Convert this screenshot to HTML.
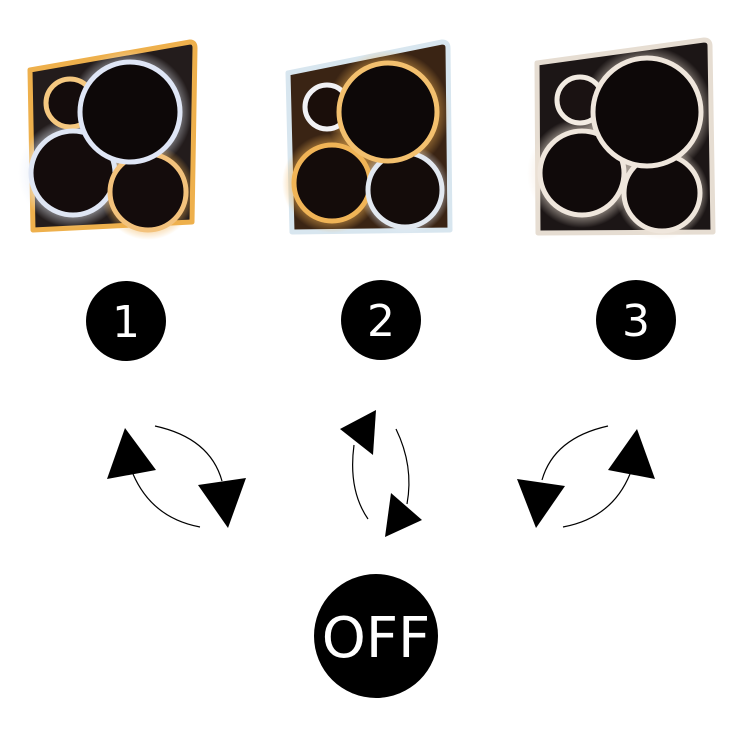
<!DOCTYPE html>
<html><head><style>html,body{margin:0;padding:0;background:#fff;}svg{display:block}</style></head><body>
<svg width="749" height="749" viewBox="0 0 749 749" xmlns="http://www.w3.org/2000/svg">
<defs>
<radialGradient id="gw" cx="0.5" cy="0.5" r="0.5"><stop offset="0.6" stop-color="#e8eef8" stop-opacity="0.9"/><stop offset="1" stop-color="#e8eef8" stop-opacity="0"/></radialGradient>
<radialGradient id="go" cx="0.5" cy="0.5" r="0.5"><stop offset="0.6" stop-color="#f0b050" stop-opacity="0.9"/><stop offset="1" stop-color="#f0b050" stop-opacity="0"/></radialGradient>
<radialGradient id="gn" cx="0.5" cy="0.5" r="0.5"><stop offset="0.6" stop-color="#f2e6d8" stop-opacity="0.9"/><stop offset="1" stop-color="#f2e6d8" stop-opacity="0"/></radialGradient>
</defs>
<!-- Lamp 1 -->
<path d="M30,70 L190,42 Q195,42 195,48 L192,222 L33,230 Z" fill="#231c1c" stroke="#eeb04c" stroke-width="5" stroke-linejoin="round"/>
<circle cx="73" cy="173" r="55" fill="url(#gw)"/>
<circle cx="130" cy="112" r="62" fill="url(#gw)"/>
<circle cx="148" cy="192" r="48" fill="url(#go)"/>
<circle cx="70" cy="103" r="24" fill="#140c0c" stroke="#f5c880" stroke-width="5"/>
<circle cx="73" cy="173" r="42" fill="#140c0c" stroke="#dfe6f4" stroke-width="5"/>
<circle cx="148" cy="192" r="38" fill="#140c0c" stroke="#f3c27c" stroke-width="5"/>
<circle cx="130" cy="112" r="50" fill="#0d0808" stroke="#dfe6f6" stroke-width="5"/>
<!-- Lamp 2 -->
<path d="M288,73 L442,42 Q448,42 448,48 L450,230 L292,232 Z" fill="#3a2414" stroke="#d8e6ef" stroke-width="5" stroke-linejoin="round"/>
<circle cx="332" cy="183" r="50" fill="url(#go)"/>
<circle cx="388" cy="112" r="62" fill="url(#go)"/>
<circle cx="405" cy="190" r="46" fill="url(#gw)"/>
<circle cx="327" cy="107" r="22" fill="#1a0e0a" stroke="#f1f1f4" stroke-width="5"/>
<circle cx="332" cy="183" r="38" fill="#140c0a" stroke="#f0b456" stroke-width="5"/>
<circle cx="405" cy="190" r="37" fill="#140c0a" stroke="#e2e8f0" stroke-width="5"/>
<circle cx="388" cy="112" r="49" fill="#0d0808" stroke="#f3c06e" stroke-width="5"/>
<!-- Lamp 3 -->
<path d="M537,63 L704,40 Q710,40 710,46 L713,232 L538,233 Z" fill="#1c1616" stroke="#e6ddd2" stroke-width="5" stroke-linejoin="round"/>
<circle cx="582" cy="173" r="55" fill="url(#gn)"/>
<circle cx="647" cy="112" r="66" fill="url(#gn)"/>
<circle cx="662" cy="193" r="47" fill="url(#gn)"/>
<circle cx="580" cy="100" r="23" fill="#1a1212" stroke="#f2ebe2" stroke-width="5"/>
<circle cx="582" cy="173" r="42" fill="#100a0a" stroke="#efe6dc" stroke-width="5"/>
<circle cx="662" cy="193" r="38" fill="#100a0a" stroke="#efe6dc" stroke-width="5"/>
<circle cx="647" cy="112" r="54" fill="#0d0808" stroke="#efe6dc" stroke-width="5"/>
<!-- numbers -->
<g font-family="DejaVu Sans, sans-serif" fill="#fff" text-anchor="middle">
<circle cx="126" cy="321" r="40" fill="#000"/><text x="126" y="337" font-size="44">1</text>
<circle cx="381" cy="320" r="40" fill="#000"/><text x="381" y="336" font-size="44">2</text>
<circle cx="636" cy="320" r="40" fill="#000"/><text x="636" y="336" font-size="44">3</text>
<circle cx="376" cy="636" r="62" fill="#000"/><text x="376" y="657" font-size="56">OFF</text>
</g>
<!-- arrows -->
<g fill="none" stroke="#000" stroke-width="1.2">
<path d="M155,426 Q210,438 222,481"/>
<path d="M133,474 Q152,518 200,527"/>
<path d="M354,445 Q348,490 368,519"/>
<path d="M396,429 Q414,466 407,504"/>
<path d="M608,426 Q554,438 542,480"/>
<path d="M630,474 Q612,518 563,527"/>
</g>
<g fill="#000">
<polygon points="125,428 107,479 156,470"/>
<polygon points="198,485 246,478 228,528"/>
<polygon points="340,429 376,410 373,455"/>
<polygon points="391,493 422,520 385,537"/>
<polygon points="517,479 565,486 536,528"/>
<polygon points="637,429 655,479 608,470"/>
</g>
</svg>
</body></html>
